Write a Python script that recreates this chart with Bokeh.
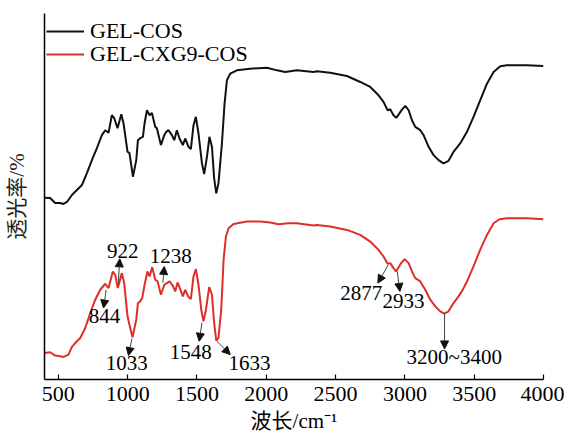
from bokeh.plotting import figure
from bokeh.models import (Range1d, FixedTicker, Arrow, NormalHead, LabelSet,
                          ColumnDataSource, Legend, LegendItem)
from bokeh.embed import file_html
from bokeh.resources import INLINE

# ---------------- data ----------------
wn_gel = [400, 441, 477, 513, 537, 562, 598, 634, 670, 706, 742, 778, 814, 838, 862,
          886, 903, 927, 954, 970, 999, 1013, 1038, 1062, 1074, 1090, 1110, 1122, 1139,
          1158, 1175, 1199, 1211, 1240, 1264, 1278, 1295, 1319, 1336, 1355, 1374, 1398,
          1415, 1439, 1456, 1475, 1492, 1511, 1536, 1552, 1572, 1590, 1608, 1624, 1639,
          1655, 1680, 1699, 1716, 1740, 1788, 1884, 2005, 2077, 2137, 2221, 2341, 2365,
          2461, 2582, 2678, 2750, 2810, 2846, 2875, 2894, 2918, 2938, 2979, 3003, 3027,
          3051, 3075, 3111, 3135, 3171, 3207, 3243, 3279, 3315, 3351, 3399, 3448, 3495,
          3543, 3592, 3640, 3688, 3736, 3880, 4000]
t_gel = [54.7, 54.6, 53.1, 53.1, 52.8, 53.4, 55.5, 57.0, 58.5, 62.1, 66.0, 69.6, 73.5, 75.0, 74.2,
         79.5, 78.6, 75.6, 79.8, 77.1, 68.5, 68.1, 61.0, 66.0, 72.0, 72.6, 73.0, 77.1, 81.0,
         79.5, 80.2, 76.0, 75.6, 70.5, 73.5, 74.5, 75.0, 73.5, 72.0, 75.0, 72.5, 70.5,
         72.5, 70.0, 69.3, 76.5, 79.0, 74.0, 65.0, 61.8, 67.0, 73.0, 70.0, 60.5, 56.0,
         59.0, 71.0, 83.0, 90.0, 92.0, 93.0, 93.5, 93.8, 93.0, 92.5, 93.0, 92.5, 92.7,
         92.3, 91.3, 89.5, 88.0, 85.5, 83.5, 81.0, 81.3, 79.5, 78.7, 81.2, 82.3, 81.0,
         78.0, 76.0, 75.0, 73.5, 70.0, 67.5, 66.0, 65.0, 65.8, 68.5, 71.0, 74.5, 79.0,
         84.0, 89.0, 92.5, 94.2, 94.5, 94.5, 94.3]

wn_cxg = [400, 441, 477, 513, 537, 573, 598, 634, 658, 694, 730, 766, 802, 838, 862,
          893, 910, 929, 958, 975, 999, 1013, 1035, 1062, 1074, 1090, 1105, 1122, 1143,
          1158, 1177, 1199, 1216, 1240, 1264, 1283, 1302, 1326, 1343, 1360, 1379, 1398,
          1415, 1439, 1456, 1475, 1492, 1511, 1531, 1547, 1565, 1588, 1608, 1624, 1639,
          1655, 1675, 1692, 1709, 1728, 1764, 1860, 1956, 2028, 2088, 2160, 2221, 2341,
          2365, 2461, 2582, 2678, 2750, 2810, 2846, 2875, 2894, 2918, 2936, 2972, 2998,
          3027, 3051, 3075, 3111, 3147, 3183, 3219, 3255, 3284, 3315, 3351, 3387, 3411,
          3448, 3495, 3543, 3592, 3640, 3683, 3736, 3880, 4000]
t_cxg = [8.0, 8.2, 7.2, 7.0, 6.8, 7.5, 9.8, 11.5, 12.5, 15.5, 20.0, 24.0, 27.0, 28.8, 27.5,
         32.5, 31.5, 27.5, 32.0, 29.0, 19.0, 16.5, 12.7, 18.0, 23.0, 23.5, 24.5, 28.5, 32.5,
         31.0, 33.8, 30.0, 29.5, 25.5, 28.5, 29.0, 29.5, 28.2, 26.5, 29.2, 27.2, 25.0,
         27.0, 24.8, 24.2, 31.0, 33.2, 28.5, 21.0, 17.5, 21.0, 27.8, 25.5, 17.0, 11.7,
         12.5, 21.0, 36.0, 43.0, 45.5, 46.8, 47.5, 47.5, 47.2, 46.7, 47.0, 47.0, 46.3,
         46.5, 46.0, 45.0, 43.5, 41.5, 39.0, 37.0, 34.8, 35.0, 33.5, 32.5, 35.0, 36.2,
         35.0, 32.5, 30.5, 29.5, 27.0, 24.0, 22.0, 20.5, 19.8, 20.5, 23.0, 25.0, 26.5,
         29.5, 34.0, 39.0, 43.5, 47.0, 48.2, 48.5, 48.5, 48.2]

series_names = ["GEL-COS", "GEL-CXG9-COS"]
x_ticks = [500, 1000, 1500, 2000, 2500, 3000, 3500, 4000]

ann_labels = ["844", "922", "1238", "1033", "1548", "1633", "2877", "2933", "3200~3400"]
ann_peak_x = [845, 932, 1254, 1031, 1536, 1644, 2880, 2945, 3286]
ann_peak_y = [27.0, 28.8, 29.1, 12.3, 17.1, 11.5, 34.5, 32.5, 20.0]
ann_tip_x = [826, 943, 1264, 1006, 1516, 1740, 2805, 2964, 3286]
ann_tip_y = [21.5, 36.3, 34.0, 7.2, 11.5, 7.5, 29.0, 26.5, 9.2]
ann_text_x = [833, 964, 1310, 994, 1456, 1879, 2686, 2990, 3356]
ann_text_y = [19.2, 38.7, 37.2, 5.1, 8.25, 5.1, 25.9, 23.5, 6.8]

# ---------------- figure ----------------
SERIF = "Liberation Serif, Noto Sans CJK SC"

p = figure(width=564, height=435, x_range=Range1d(400, 4000), y_range=Range1d(0, 110.1),
           output_backend="svg", toolbar_location=None,
           min_border_left=44, min_border_right=21, min_border_top=13, min_border_bottom=55)
p.outline_line_color = None
p.xgrid.visible = False
p.ygrid.visible = False
p.background_fill_color = "white"
p.border_fill_color = "white"

r_gel = p.line(wn_gel, t_gel, line_color="#111111", line_width=2)
r_cxg = p.line(wn_cxg, t_cxg, line_color="#dd2f2a", line_width=2)

# x axis
xa = p.xaxis[0]
xa.ticker = FixedTicker(ticks=x_ticks)
xa.major_tick_in = 5
xa.major_tick_out = 0
xa.minor_tick_line_color = None
xa.axis_line_width = 1.5
xa.major_tick_line_width = 1.2
xa.major_label_text_font = SERIF
xa.major_label_text_font_size = "22px"
xa.major_label_text_color = "black"
xa.major_label_standoff = 7
xa.axis_label = "波长/cm⁻¹"
xa.axis_label_text_font = SERIF
xa.axis_label_text_font_size = "21px"
xa.axis_label_text_font_style = "normal"
xa.axis_label_text_color = "black"
xa.axis_label_standoff = 5

# y axis
ya = p.yaxis[0]
ya.ticker = FixedTicker(ticks=[])
ya.minor_tick_line_color = None
ya.major_tick_line_color = None
ya.axis_line_width = 1.5
ya.axis_label = "透光率/%"
ya.axis_label_text_font = SERIF
ya.axis_label_text_font_size = "21px"
ya.axis_label_text_font_style = "normal"
ya.axis_label_text_color = "#222222"
ya.axis_label_standoff = 16

# legends (one per row, for exact row spacing)
for i, (name, rend) in enumerate(zip(series_names, [r_gel, r_cxg])):
    lg = Legend(items=[LegendItem(label=name, renderers=[rend])],
                location=(2, 335 - 23 * i))
    lg.border_line_color = None
    lg.background_fill_alpha = 0
    lg.margin = 0
    lg.padding = 4
    lg.glyph_width = 38
    lg.glyph_height = 20
    lg.label_height = 20
    lg.label_standoff = 6
    lg.label_text_font = SERIF
    lg.label_text_font_size = "22px"
    lg.label_text_color = "black"
    p.add_layout(lg)

# annotations
asrc = ColumnDataSource(dict(x0=ann_peak_x, y0=ann_peak_y, x1=ann_tip_x, y1=ann_tip_y))
p.add_layout(Arrow(end=NormalHead(size=8, fill_color="#111111", line_color="#111111"),
                   x_start="x0", y_start="y0", x_end="x1", y_end="y1", source=asrc,
                   line_color="#444444", line_width=1))
lsrc = ColumnDataSource(dict(x=ann_text_x, y=ann_text_y, t=ann_labels))
p.add_layout(LabelSet(x="x", y="y", text="t", source=lsrc, text_align="center",
                      text_baseline="middle", text_font=SERIF, text_font_size="21px",
                      text_color="black"))

open("out.html", "w").write(file_html(p, INLINE))
